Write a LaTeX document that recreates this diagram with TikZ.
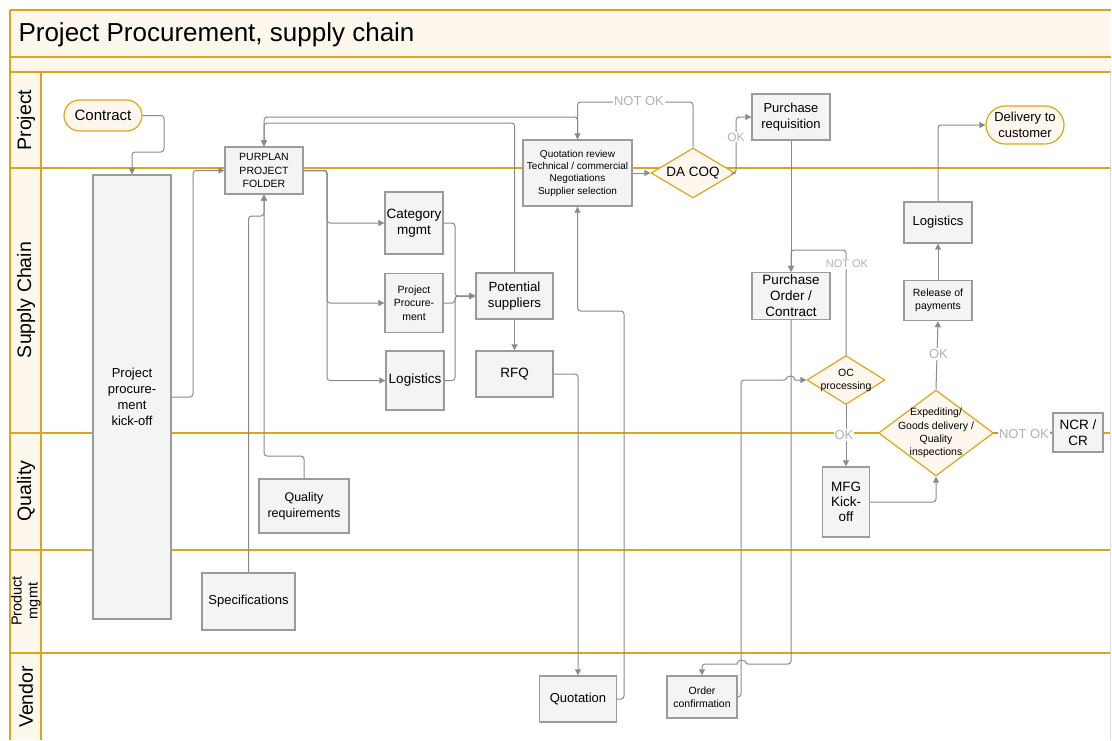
\documentclass[tikz,border=0pt]{standalone}
\usepackage{fontspec}
\setmainfont{Liberation Sans}
\usetikzlibrary{arrows.meta,shapes.geometric}
\definecolor{gold}{RGB}{219,166,28}
\definecolor{cream}{RGB}{254,247,238}
\definecolor{boxfill}{RGB}{244,244,244}
\definecolor{boxline}{RGB}{155,155,155}
\definecolor{conncol}{RGB}{138,138,138}
\definecolor{lblcol}{RGB}{178,178,178}
\newcommand{\fsz}[2]{\fontsize{#1}{#2}\selectfont}
\begin{document}
\begin{tikzpicture}[x=1pt,y=-1pt,
  box/.style={draw=boxline, fill=boxfill, line width=1.4pt, inner sep=0pt, align=center},
  term/.style={draw=gold, fill=cream, line width=1.2pt, inner sep=0pt, align=center},
  dia/.style={diamond, draw=gold, fill=cream, line width=1.2pt, inner sep=0pt},
  lane/.style={draw=gold, line width=1.5pt},
  lanelbl/.style={rotate=90, align=center, inner sep=0pt},
  conn/.style={draw=conncol, line width=1pt, rounded corners=3pt, -{Triangle[length=6pt,width=6pt]}},
  lbl/.style={text=lblcol, fill=white, inner sep=1pt}
]
\useasboundingbox (0,0) rectangle (1112,740);
% ---------- pool and lanes ----------
\fill[cream] (10,10) rectangle (1111,72);
\fill[cream] (10,72) rectangle (41,740);
\draw[lane] (10,10) -- (1111,10);
\draw[lane] (10,57) -- (1111,57);
\draw[lane] (10,72) -- (1111,72);
\draw[lane] (10,168) -- (1111,168);
\draw[lane] (10,433) -- (1111,433);
\draw[lane] (10,550) -- (1111,550);
\draw[lane] (10,653) -- (1111,653);
\draw[lane] (10,10) -- (10,740);
\draw[lane] (41,72) -- (41,740);
\draw[black!15, line width=0.8pt] (1110.5,72) -- (1110.5,740);
\node[anchor=base west, font=\fsz{26}{30}] (title) at (15,41) {Project Procurement, supply chain};
\node[lanelbl, font=\fsz{19.5}{22}] (lproject) at (26,120) {Project};
\node[lanelbl, font=\fsz{19.5}{22}] (lsupply) at (26,300) {Supply Chain};
\node[lanelbl, font=\fsz{19.5}{22}] (lquality) at (26,491) {Quality};
\node[lanelbl, font=\fsz{14.5}{16}] (lproduct) at (26,601) {Product\\mgmt};
\node[lanelbl, font=\fsz{19.5}{22}] (lvendor) at (26,697) {Vendor};
% ---------- nodes ----------
\node[term, rounded corners=15.5pt, minimum width=78pt, minimum height=31pt, font=\fsz{15}{17}] (contract) at (103,115.5) {Contract};
\node[box, minimum width=78pt, minimum height=444pt, font=\fsz{13}{16}] (kick) at (132,397) {Project\\procure-\\ment\\kick-off};
\node[box, minimum width=78pt, minimum height=47pt, font=\fsz{10.5}{13.3}] (purplan) at (264,170.5) {PURPLAN\\PROJECT\\FOLDER};
\node[box, minimum width=58pt, minimum height=62pt, font=\fsz{13.5}{16}] (cat) at (414,223) {Category\\mgmt};
\node[box, minimum width=58pt, minimum height=59pt, font=\fsz{10.5}{13.3}] (pproc) at (414,303) {Project\\Procure-\\ment};
\node[box, minimum width=58pt, minimum height=59pt, font=\fsz{13.5}{16}] (logl) at (415,380.5) {Logistics};
\node[box, minimum width=77pt, minimum height=46pt, font=\fsz{13.3}{16}] (ps) at (514.5,296) {Potential\\suppliers};
\node[box, minimum width=77pt, minimum height=46pt, font=\fsz{13.5}{16}] (rfq) at (514.5,374) {RFQ};
\node[box, minimum width=109pt, minimum height=66pt, font=\fsz{10}{12.3}] (qr) at (577.5,173) {Quotation review\\Technical / commercial\\Negotiations\\Supplier selection};
\node[dia, minimum width=84pt, minimum height=50pt] (dacoq) at (693,173) {};
\node[font=\fsz{13.5}{16}] (dacoqt) at (dacoq) {DA COQ};
\node[box, minimum width=78pt, minimum height=46pt, font=\fsz{13}{16}] (preq) at (791,117) {Purchase\\requisition};
\node[term, rounded corners=19pt, minimum width=78pt, minimum height=38pt, font=\fsz{13}{16}] (deliv) at (1025,125) {Delivery to\\customer};
\node[box, minimum width=68pt, minimum height=41pt, font=\fsz{13}{16}] (logr) at (938,222.5) {Logistics};
\node[box, minimum width=78pt, minimum height=47pt, font=\fsz{13.5}{16}] (po) at (791,296) {Purchase\\Order /\\Contract};
\node[box, minimum width=68pt, minimum height=40pt, font=\fsz{10.5}{13.3}] (rel) at (938,300.5) {Release of\\payments};
\node[dia, minimum width=78pt, minimum height=49pt] (oc) at (846,380) {};
\node[font=\fsz{10.5}{12.7}, align=center] (oct) at (846,380.5) {OC\\processing};
\node[dia, minimum width=115pt, minimum height=86pt] (exp) at (936,433) {};
\node[font=\fsz{10.5}{13.3}, align=center] (expt) at (936,433) {Expediting/\\Goods delivery /\\Quality\\inspections};
\node[box, minimum width=50pt, minimum height=39pt, font=\fsz{13.5}{16}] (ncr) at (1078,432.5) {NCR /\\CR};
\node[box, minimum width=47pt, minimum height=70pt, font=\fsz{13.5}{15.3}] (mfg) at (846,502) {MFG\\Kick-\\off};
\node[box, minimum width=90pt, minimum height=54pt, font=\fsz{12.5}{16}] (qreq) at (304,506) {Quality\\requirements};
\node[box, minimum width=93pt, minimum height=57pt, font=\fsz{13}{16}] (spec) at (248.5,601.5) {Specifications};
\node[box, minimum width=77pt, minimum height=46pt, font=\fsz{13}{16}] (quot) at (578,699) {Quotation};
\node[box, minimum width=70pt, minimum height=42pt, font=\fsz{10.5}{13.3}] (oconf) at (702,697) {Order\\confirmation};
% ---------- connectors ----------
\draw[conn] (contract.east) -| (164,152) -| (kick.north);
\draw[conn] (kick.east) -| (193,170.5) -- (purplan.west);
\draw[conn] (purplan.east) -| (327,223) -- (cat.west);
\draw[conn] (purplan.east) -| (327,303) -- (pproc.west);
\draw[conn] (purplan.east) -| (327,380.5) -- (logl.west);
\draw[conn] (cat.east) -| (455,296) -- (ps.west);
\draw[conn] (pproc.east) -| (455,296) -- (ps.west);
\draw[conn] (logl.east) -| (455,296) -- (ps.west);
\draw[conn] (ps.south) -- (rfq.north);
\draw[conn] (ps.north) |- (264,123) -- (purplan.north);
\draw[conn] (qr.north) |- (264,117) -- (purplan.north);
\draw[conn] (dacoq.north) |- (577.5,102) -- (qr.north);
\draw[conn] (qreq.north) |- (264,456) -- (purplan.south);
\draw[conn] (spec.north) |- (264,216) -- (purplan.south);
\draw[conn] (rfq.east) -| (quot.north);
\draw[conn] (quot.east) -| (624,311) -| (qr.south);
\draw[conn] (qr.east) -- (dacoq.west);
\draw[conn] (dacoq.east) -| (736,117) -- (preq.west);
\draw[conn] (preq.south) -- (po.north);
\draw[conn] (oc.north) |- (791,250) -- (po.north);
\draw[conn] (po.south) |- (745,664) [sharp corners] arc[start angle=0, end angle=180, radius=4pt] [rounded corners=3pt] -- (702,664) -- (oconf.north);
\draw[conn] (oconf.east) -| (741,380) -- (787,380) [sharp corners] arc[start angle=180, end angle=0, radius=4pt] [rounded corners=3pt] -- (oc.west);
\draw[conn] (oc.south) -- (mfg.north);
\draw[conn] (mfg.east) -| (exp.south);
\draw[conn] (exp.north) -- (rel.south);
\draw[conn] (rel.north) -- (logr.south);
\draw[conn] (logr.north) |- (deliv.west);
\draw[conn] (exp.east) -- (ncr.west);
% ---------- connector labels ----------
\node[lbl, font=\fsz{13}{15}] (l1) at (639,101) {NOT OK};
\node[lbl, font=\fsz{12}{14}] (l2) at (736,137) {OK};
\node[lbl, font=\fsz{11}{13}] (l3) at (847,264) {NOT OK};
\node[lbl, font=\fsz{13}{15}] (l4) at (844,435) {OK};
\node[lbl, font=\fsz{13}{15}] (l5) at (938.5,354) {OK};
\node[lbl, font=\fsz{13}{15}] (l6) at (1024,434) {NOT OK};
\end{tikzpicture}
\end{document}
